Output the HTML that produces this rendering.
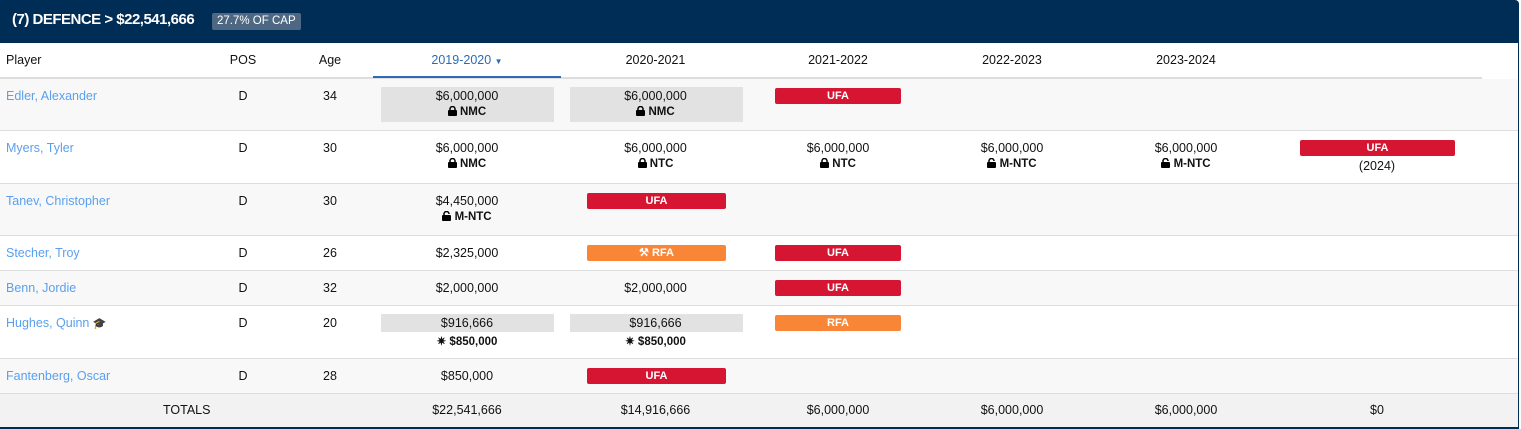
<!DOCTYPE html>
<html><head><meta charset="utf-8"><style>
*{margin:0;padding:0;box-sizing:border-box}
body{width:1521px;height:429px;background:#fff;font-family:"Liberation Sans",Arial,sans-serif;font-size:12.5px;color:#111;position:relative;overflow:hidden}
.a{position:absolute}
.hdr{left:0;top:0;width:1519px;height:43px;background:#002d56;border-radius:0 4px 0 0}
.t{left:12px;top:11px;color:#fff;font-weight:bold;font-size:15px;letter-spacing:-0.5px}
.cap{left:212px;top:13px;background:#4e6884;color:#fff;font-size:11.5px;padding:2px 5px;border-radius:2px;line-height:13px}
.row{left:0;width:1518px;border-bottom:1px solid #ddd}
.g{background:#f8f8f8}
.c{position:absolute;text-align:center;white-space:nowrap}
.s{font-size:11.5px;font-weight:bold}
.box{position:absolute;background:#e2e2e2}
.ufa,.rfa{position:absolute;height:16px;border-radius:2px;color:#fff;font-weight:bold;font-size:11px;text-align:center;line-height:16px}
.ufa{background:#d51531}.rfa{background:#f98637}
.nm{color:#5aa0ee}
svg{vertical-align:-1px}
</style></head><body>
<div class="a hdr"></div>
<div class="a t">(7) DEFENCE &gt; $22,541,666</div>
<div class="a cap">27.7% OF CAP</div>
<div class="a" style="right:2px;top:43px;width:1px;height:386px;background:#002d56"></div>
<div class="a" style="left:0;top:427px;width:1519px;height:2px;background:#002d56"></div>

<div class="a" style="left:0;top:77px;width:1482px;height:2px;background:#ddd"></div>
<div class="a" style="left:373px;top:76px;width:188px;height:2px;background:#2b6cb0"></div>
<div class="c" style="left:6px;top:53px">Player</div>
<div class="c" style="left:213px;width:60px;top:53px">POS</div>
<div class="c" style="left:300px;width:60px;top:53px">Age</div>
<div class="c" style="left:373px;width:188px;top:53px;color:#2b6cb0">2019-2020 <span style="font-size:8px">&#9660;</span></div>
<div class="c" style="left:561px;width:189px;top:53px">2020-2021</div>
<div class="c" style="left:750px;width:176px;top:53px">2021-2022</div>
<div class="c" style="left:926px;width:172px;top:53px">2022-2023</div>
<div class="c" style="left:1098px;width:176px;top:53px">2023-2024</div>

<div class="a row g" style="top:79px;height:52px"></div>
<div class="a row" style="top:131px;height:53px"></div>
<div class="a row g" style="top:184px;height:52px"></div>
<div class="a row" style="top:236px;height:35px"></div>
<div class="a row g" style="top:271px;height:35px"></div>
<div class="a row" style="top:306px;height:53px"></div>
<div class="a row g" style="top:359px;height:35px"></div>
<div class="a" style="left:0;top:394px;width:1518px;height:33px;background:#f2f2f2"></div>

<div class="c nm" style="left:6px;top:89px">Edler, Alexander</div>
<div class="c" style="left:213px;width:60px;top:89px">D</div>
<div class="c" style="left:300px;width:60px;top:89px">34</div>
<div class="box" style="left:381px;top:87px;width:173px;height:35px"></div>
<div class="box" style="left:570px;top:87px;width:173px;height:35px"></div>
<div class="c" style="left:373px;width:188px;top:89px">$6,000,000</div>
<div class="c s" style="left:373px;width:188px;top:106px"><svg width="9" height="10"><rect x="0" y="4" width="9" height="6" rx="1"/><path d="M2 5V3a2.5 2.5 0 0 1 5 0v2" fill="none" stroke="#000" stroke-width="1.5"/></svg> NMC</div>
<div class="c" style="left:561px;width:189px;top:89px">$6,000,000</div>
<div class="c s" style="left:561px;width:189px;top:106px"><svg width="9" height="10"><rect x="0" y="4" width="9" height="6" rx="1"/><path d="M2 5V3a2.5 2.5 0 0 1 5 0v2" fill="none" stroke="#000" stroke-width="1.5"/></svg> NMC</div>
<div class="ufa" style="left:775px;top:88px;width:126px">UFA</div>

<div class="c nm" style="left:6px;top:141px">Myers, Tyler</div>
<div class="c" style="left:213px;width:60px;top:141px">D</div>
<div class="c" style="left:300px;width:60px;top:141px">30</div>
<div class="c" style="left:373px;width:188px;top:141px">$6,000,000</div>
<div class="c s" style="left:373px;width:188px;top:158px"><svg width="9" height="10"><rect x="0" y="4" width="9" height="6" rx="1"/><path d="M2 5V3a2.5 2.5 0 0 1 5 0v2" fill="none" stroke="#000" stroke-width="1.5"/></svg> NMC</div>
<div class="c" style="left:561px;width:189px;top:141px">$6,000,000</div>
<div class="c s" style="left:561px;width:189px;top:158px"><svg width="9" height="10"><rect x="0" y="4" width="9" height="6" rx="1"/><path d="M2 5V3a2.5 2.5 0 0 1 5 0v2" fill="none" stroke="#000" stroke-width="1.5"/></svg> NTC</div>
<div class="c" style="left:750px;width:176px;top:141px">$6,000,000</div>
<div class="c s" style="left:750px;width:176px;top:158px"><svg width="9" height="10"><rect x="0" y="4" width="9" height="6" rx="1"/><path d="M2 5V3a2.5 2.5 0 0 1 5 0v2" fill="none" stroke="#000" stroke-width="1.5"/></svg> NTC</div>
<div class="c" style="left:926px;width:172px;top:141px">$6,000,000</div>
<div class="c s" style="left:926px;width:172px;top:158px"><svg width="9" height="10"><rect x="0" y="4" width="9" height="6" rx="1"/><path d="M2 5V3a2.5 2.5 0 0 1 5 0" fill="none" stroke="#000" stroke-width="1.5"/></svg> M-NTC</div>
<div class="c" style="left:1098px;width:176px;top:141px">$6,000,000</div>
<div class="c s" style="left:1098px;width:176px;top:158px"><svg width="9" height="10"><rect x="0" y="4" width="9" height="6" rx="1"/><path d="M2 5V3a2.5 2.5 0 0 1 5 0" fill="none" stroke="#000" stroke-width="1.5"/></svg> M-NTC</div>
<div class="ufa" style="left:1300px;top:140px;width:155px">UFA</div>
<div class="c" style="left:1274px;width:206px;top:159px">(2024)</div>

<div class="c nm" style="left:6px;top:194px">Tanev, Christopher</div>
<div class="c" style="left:213px;width:60px;top:194px">D</div>
<div class="c" style="left:300px;width:60px;top:194px">30</div>
<div class="c" style="left:373px;width:188px;top:194px">$4,450,000</div>
<div class="c s" style="left:373px;width:188px;top:211px"><svg width="9" height="10"><rect x="0" y="4" width="9" height="6" rx="1"/><path d="M2 5V3a2.5 2.5 0 0 1 5 0" fill="none" stroke="#000" stroke-width="1.5"/></svg> M-NTC</div>
<div class="ufa" style="left:587px;top:193px;width:139px">UFA</div>

<div class="c nm" style="left:6px;top:246px">Stecher, Troy</div>
<div class="c" style="left:213px;width:60px;top:246px">D</div>
<div class="c" style="left:300px;width:60px;top:246px">26</div>
<div class="c" style="left:373px;width:188px;top:246px">$2,325,000</div>
<div class="rfa" style="left:587px;top:245px;width:139px">&#9874; RFA</div>
<div class="ufa" style="left:775px;top:245px;width:126px">UFA</div>

<div class="c nm" style="left:6px;top:281px">Benn, Jordie</div>
<div class="c" style="left:213px;width:60px;top:281px">D</div>
<div class="c" style="left:300px;width:60px;top:281px">32</div>
<div class="c" style="left:373px;width:188px;top:281px">$2,000,000</div>
<div class="c" style="left:561px;width:189px;top:281px">$2,000,000</div>
<div class="ufa" style="left:775px;top:280px;width:126px">UFA</div>

<div class="c nm" style="left:6px;top:316px">Hughes, Quinn <span style="color:#000;font-size:11px">&#127891;</span></div>
<div class="c" style="left:213px;width:60px;top:316px">D</div>
<div class="c" style="left:300px;width:60px;top:316px">20</div>
<div class="box" style="left:381px;top:314px;width:173px;height:18px"></div>
<div class="box" style="left:570px;top:314px;width:173px;height:18px"></div>
<div class="c" style="left:373px;width:188px;top:316px">$916,666</div>
<div class="c s" style="left:373px;width:188px;top:334px">&#10039; $850,000</div>
<div class="c" style="left:561px;width:189px;top:316px">$916,666</div>
<div class="c s" style="left:561px;width:189px;top:334px">&#10039; $850,000</div>
<div class="rfa" style="left:775px;top:315px;width:126px">RFA</div>

<div class="c nm" style="left:6px;top:369px">Fantenberg, Oscar</div>
<div class="c" style="left:213px;width:60px;top:369px">D</div>
<div class="c" style="left:300px;width:60px;top:369px">28</div>
<div class="c" style="left:373px;width:188px;top:369px">$850,000</div>
<div class="ufa" style="left:587px;top:368px;width:139px">UFA</div>

<div class="c" style="left:163px;top:403px">TOTALS</div>
<div class="c" style="left:373px;width:188px;top:403px">$22,541,666</div>
<div class="c" style="left:561px;width:189px;top:403px">$14,916,666</div>
<div class="c" style="left:750px;width:176px;top:403px">$6,000,000</div>
<div class="c" style="left:926px;width:172px;top:403px">$6,000,000</div>
<div class="c" style="left:1098px;width:176px;top:403px">$6,000,000</div>
<div class="c" style="left:1274px;width:206px;top:403px">$0</div>
</body></html>
